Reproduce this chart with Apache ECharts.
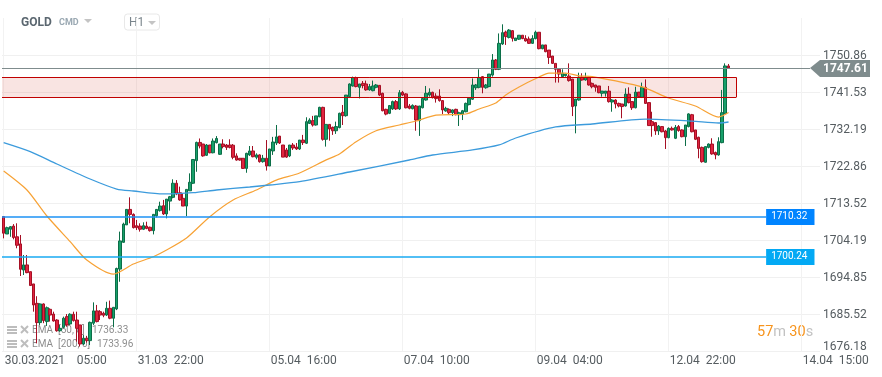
<!DOCTYPE html>
<html>
<head>
<meta charset="utf-8">
<title>GOLD H1</title>
<script src="https://cdn.jsdelivr.net/npm/echarts@6/dist/echarts.min.js"></script>
<style>
  html, body { margin: 0; padding: 0; background: #fff; }
  #chart { width: 882px; height: 377px; }
</style>
</head>
<body>
<div id="chart"></div>
<script>
// one row per hourly bar: open, close, low, high
const bars = [
  [1710.1,1705.9,1704.6,1710.2],[1705.7,1707.3,1705.7,1707.55],[1706.9,1707.55,1705.0,1707.7],[1707.7,1704.8,1704.35,1708.2],
  [1705.0,1702.85,1702.1,1708.4],[1703.2,1696.8,1695.1,1705.45],[1696.6,1697.9,1695.35,1700.4],[1697.9,1695.95,1695.8,1700.4],
  [1696.2,1692.7,1692.6,1696.2],[1693.1,1687.8,1686.1,1693.1],[1688.2,1683.35,1678.1,1690.0],[1683.35,1688.05,1682.75,1688.2],
  [1688.05,1683.85,1683.2,1688.2],[1683.6,1687.1,1682.5,1687.4],[1686.7,1685.25,1683.6,1686.95],[1685.5,1683.75,1683.6,1686.1],
  [1684.0,1681.3,1681.05,1684.2],[1681.3,1681.9,1681.05,1682.75],[1682.15,1684.45,1681.9,1684.85],[1684.85,1682.75,1682.3,1685.5],
  [1683.0,1685.45,1682.75,1685.7],[1685.45,1683.85,1683.6,1686.1],[1684.0,1681.9,1678.55,1686.1],[1682.75,1677.95,1677.3,1682.75],
  [1677.95,1679.4,1677.7,1680.2],[1679.4,1678.8,1678.3,1680.0],[1678.8,1683.4,1677.7,1683.6],[1683.2,1686.3,1682.75,1688.45],
  [1686.3,1683.6,1683.4,1687.8],[1686.1,1685.25,1684.0,1686.5],[1685.7,1685.2,1684.7,1686.1],[1685.25,1686.95,1685.0,1688.6],
  [1686.95,1684.45,1684.2,1688.9],[1684.45,1687.2,1682.15,1687.2],[1686.8,1697.0,1686.5,1697.2],[1696.85,1703.95,1693.65,1706.3],
  [1703.6,1708.2,1703.5,1708.55],[1708.0,1711.9,1708.0,1711.9],[1711.9,1710.65,1708.4,1714.95],[1710.65,1707.3,1707.1,1710.9],
  [1707.8,1707.3,1706.7,1709.25],[1707.7,1706.9,1706.3,1708.4],[1706.9,1707.8,1706.7,1708.65],[1707.7,1707.1,1706.9,1708.8],
  [1707.4,1706.55,1706.3,1707.55],[1706.55,1710.65,1705.6,1710.75],[1710.3,1711.9,1709.85,1712.0],[1711.6,1712.75,1711.35,1713.85],
  [1712.85,1710.75,1710.5,1714.3],[1710.75,1714.5,1709.65,1714.5],[1714.0,1715.1,1711.6,1715.3],[1714.95,1718.5,1714.7,1719.5],
  [1718.5,1715.8,1715.5,1719.3],[1716.1,1714.3,1714.1,1717.65],[1714.7,1712.75,1712.75,1715.95],[1712.75,1716.95,1710.2,1716.95],
  [1716.6,1718.75,1716.6,1721.0],[1718.5,1724.5,1718.3,1724.5],[1724.2,1728.8,1721.4,1729.0],[1728.8,1727.9,1727.3,1729.8],
  [1728.4,1725.4,1725.2,1728.4],[1725.55,1728.15,1725.4,1728.4],[1728.15,1726.2,1726.05,1728.15],[1726.2,1729.15,1726.05,1729.8],
  [1728.75,1729.8,1728.55,1730.4],[1725.8,1728.4,1725.65,1728.4],[1728.4,1727.75,1727.3,1729.6],[1728.15,1727.55,1726.9,1728.4],
  [1728.15,1727.55,1727.3,1729.6],[1728.1,1725.05,1724.55,1728.4],[1725.4,1724.35,1724.2,1726.05],[1724.8,1724.35,1724.2,1724.8],
  [1724.8,1722.25,1722.1,1724.8],[1722.25,1726.05,1721.15,1726.2],[1725.65,1726.65,1725.4,1727.9],[1726.65,1725.2,1725.05,1727.9],
  [1725.05,1725.65,1724.55,1726.05],[1725.65,1723.95,1723.7,1725.8],[1723.95,1724.8,1723.7,1725.65],[1724.8,1722.85,1721.7,1729.4],
  [1722.85,1727.15,1722.85,1727.15],[1726.65,1728.9,1725.65,1730.2],[1728.65,1730.2,1728.15,1733.2],[1730.4,1728.65,1728.4,1730.4],
  [1728.15,1725.1,1725.1,1728.15],[1726.9,1725.1,1724.9,1727.4],[1725.4,1728.15,1725.1,1728.15],[1728.15,1727.4,1726.9,1728.65],
  [1727.65,1727.15,1726.9,1728.65],[1727.15,1729.4,1726.9,1729.4],[1729.4,1728.75,1728.15,1730.7],[1728.6,1734.05,1728.4,1735.15],
  [1733.6,1734.45,1733.45,1734.9],[1734.3,1733.2,1732.8,1735.5],[1733.2,1735.5,1733.05,1735.5],[1735.3,1737.65,1735.15,1737.8],
  [1737.65,1729.6,1729.25,1737.8],[1729.6,1733.35,1727.75,1733.35],[1733.35,1732.2,1729.25,1733.35],[1732.6,1731.75,1730.7,1732.8],
  [1731.75,1732.8,1730.95,1734.05],[1732.55,1736.15,1732.35,1736.3],[1736.4,1735.55,1733.2,1738.25],[1735.55,1740.75,1735.3,1740.75],
  [1740.35,1743.55,1740.2,1743.7],[1743.05,1745.15,1742.9,1745.4],[1745.15,1742.9,1742.7,1745.4],[1742.7,1743.55,1739.9,1743.55],
  [1743.7,1743.15,1742.45,1744.3],[1743.55,1742.05,1741.85,1744.4],[1742.05,1742.9,1741.85,1743.55],[1741.85,1743.05,1741.7,1744.4],
  [1742.7,1743.3,1742.45,1743.55],[1743.2,1740.75,1740.5,1743.2],[1741.2,1736.8,1736.65,1741.35],[1737.15,1735.95,1735.65,1737.3],
  [1736.15,1738.1,1735.95,1738.25],[1737.25,1739.1,1737.0,1739.35],[1739.1,1737.25,1737.0,1739.5],[1737.25,1741.35,1737.0,1742.0],
  [1741.45,1740.75,1740.5,1741.8],[1741.05,1737.55,1737.4,1741.2],[1738.0,1737.4,1737.15,1738.5],[1737.3,1738.15,1737.15,1738.4],
  [1738.0,1734.45,1731.75,1738.25],[1734.3,1738.0,1730.45,1738.0],[1737.55,1739.9,1737.4,1740.2],[1739.5,1741.2,1739.35,1743.05],
  [1740.75,1741.45,1740.35,1742.45],[1741.45,1740.1,1739.9,1741.6],[1740.5,1739.85,1738.85,1741.2],[1740.5,1739.35,1739.1,1742.2],
  [1739.35,1737.0,1735.95,1739.5],[1736.75,1737.4,1736.55,1737.8],[1737.15,1736.3,1735.95,1737.4],[1736.3,1737.0,1735.45,1737.15],
  [1737.15,1735.8,1735.65,1737.3],[1735.8,1736.3,1732.95,1736.55],[1735.95,1736.8,1734.45,1737.0],[1736.55,1738.65,1736.4,1738.85],
  [1738.35,1739.95,1738.15,1740.1],[1739.7,1743.3,1739.5,1744.95],[1742.6,1743.3,1742.05,1743.55],[1742.7,1745.2,1742.45,1747.25],
  [1745.4,1742.7,1741.2,1745.55],[1742.6,1743.3,1742.35,1743.55],[1742.9,1746.05,1742.7,1746.05],[1745.8,1749.6,1745.4,1751.1],
  [1749.6,1747.25,1747.05,1749.85],[1747.25,1753.8,1747.05,1756.3],[1753.65,1756.5,1753.4,1758.6],[1756.65,1755.5,1753.4,1757.0],
  [1755.3,1757.15,1755.05,1757.4],[1757.0,1755.05,1754.25,1757.15],[1754.5,1755.15,1754.5,1755.15],[1754.85,1755.85,1754.65,1755.9],
  [1755.85,1755.0,1754.85,1755.85],[1755.05,1754.4,1754.25,1755.85],[1754.9,1753.8,1753.65,1755.5],[1753.8,1755.05,1753.65,1755.85],
  [1755.0,1756.6,1754.8,1757.0],[1756.6,1752.45,1752.3,1756.6],[1752.45,1753.4,1752.3,1753.4],[1753.4,1751.7,1751.55,1753.4],
  [1752.1,1750.25,1748.6,1752.1],[1750.6,1748.75,1748.6,1750.6],[1748.75,1747.25,1743.9,1748.75],[1747.25,1746.05,1743.9,1747.25],
  [1745.4,1746.25,1745.25,1747.25],[1745.65,1746.05,1745.4,1746.05],[1745.55,1744.4,1744.15,1748.75],[1744.8,1737.85,1735.45,1744.8],
  [1738.0,1739.75,1731.1,1739.75],[1739.5,1745.25,1739.35,1746.4],[1745.25,1744.55,1744.4,1746.25],[1744.55,1745.25,1744.4,1746.4],
  [1745.25,1743.3,1743.15,1745.4],[1743.7,1742.85,1742.45,1743.9],[1743.3,1742.7,1741.6,1743.3],[1743.05,1741.35,1741.2,1743.05],
  [1741.2,1741.75,1740.35,1741.75],[1741.2,1741.75,1740.35,1741.75],[1741.75,1739.1,1738.85,1743.05],[1739.0,1739.5,1736.55,1739.7],
  [1739.5,1738.5,1737.4,1739.7],[1738.65,1738.0,1737.65,1738.85],[1738.5,1737.85,1734.9,1738.5],[1738.0,1741.0,1737.85,1742.45],
  [1741.0,1738.85,1738.65,1742.7],[1739.1,1737.55,1737.0,1739.1],[1737.55,1741.5,1737.4,1742.85],[1741.5,1740.35,1740.2,1741.5],
  [1740.2,1742.7,1740.0,1743.9],[1742.7,1738.65,1738.5,1744.7],[1738.85,1733.05,1732.95,1738.85],[1734.05,1733.05,1730.25,1736.55],
  [1733.8,1731.7,1730.7,1733.8],[1731.7,1732.95,1730.7,1733.2],[1732.8,1731.5,1731.35,1732.95],[1731.7,1730.0,1727.15,1731.95],
  [1730.0,1732.35,1729.85,1732.6],[1732.35,1731.95,1731.8,1732.8],[1729.85,1732.6,1729.65,1733.2],[1732.8,1731.8,1731.5,1733.2],
  [1731.95,1730.25,1730.1,1732.1],[1730.25,1733.2,1727.9,1733.2],[1732.8,1736.0,1732.6,1736.15],[1735.8,1731.5,1731.35,1736.0],
  [1731.95,1729.6,1729.4,1731.95],[1730.1,1727.3,1724.8,1730.25],[1727.55,1723.95,1723.7,1727.75],[1723.8,1727.75,1723.7,1727.75],
  [1727.55,1728.4,1727.3,1728.55],[1728.4,1725.9,1725.7,1729.85],[1726.25,1725.65,1724.55,1726.5],[1725.65,1729.0,1725.45,1730.1],
  [1728.75,1736.3,1728.6,1742.05],[1736.15,1748.1,1735.95,1748.75],[1748.1,1747.61,1747.5,1748.6]
]

// [bar number, value]
const ema50 = [
  [0,1721.6],[7,1716.8],[13,1710.24],[20,1703.76],[25,1699.14],[33,1695.6],[39,1698.13],[45,1699.97],[49,1701.67],
  [55,1704.7],[62,1710.07],[69,1714.28],[76,1716.8],[82,1719.3],[89,1721.1],[97,1724.4],[101,1725.9],[106,1729.0],
  [112,1731.76],[119,1733.2],[124,1734.2],[130,1735.7],[139,1735.98],[143,1737.24],[148,1738.75],[151,1740.77],
  [155,1742.8],[161,1745.3],[164,1746.3],[169,1746.3],[173,1745.6],[177,1745.4],[192,1742.8],[200,1740.0],
  [208,1738.0],[215,1735.2],[218,1736.33]
]
const ema200 = [
  [0,1728.74],[8,1726.47],[16,1723.36],[26,1719.58],[34,1717.05],[39,1716.55],[48,1715.8],[57,1716.12],[64,1716.8],
  [74,1717.56],[80,1718.06],[89,1718.9],[104,1721.34],[122,1724.37],[129,1725.63],[141,1726.9],[149,1728.16],
  [154,1729.92],[166,1732.7],[177,1733.45],[193,1734.7],[207,1734.2],[215,1733.7],[218,1733.96]
]

const xTickBars = [0, 40, 80, 120, 160, 200, 240]
const xTickLabels = ['30.03.2021    05:00', '31.03  22:00', '05.04  16:00', '07.04  10:00', '09.04  04:00', '12.04  22:00', '14.04  15:00']
const yTicks = [1676.18, 1685.52, 1694.85, 1704.19, 1713.52, 1722.86, 1732.19, 1741.53, 1750.86]

const lastPrice = 1747.61
const zoneTop = 1745.23
const zoneBottom = 1740.19
// value is where the line sits on the axis, label is the text of its tag
const levels = [
  { value: 1709.99, label: '1710.32', color: '#1d92f5', tag: '#0084ff' },
  { value: 1699.9, label: '1700.24', color: '#18aaf2', tag: '#03a9f4' },
]
const indicators = [
  { name: 'EMA', params: '[50, 0]', value: '1736.33', valueX: 92 },
  { name: 'EMA', params: '[200, 0]', value: '1733.96', valueX: 97 },
]

const font = 'Roboto'
const grey = '#555c60'

function legendRow(row, i) {
  const y = 330 + i * 14
  const c = '#bdbdbd'
  const els = []
  ;[-4, -1, 2].forEach(function (d) {
    els.push({ type: 'rect', shape: { x: 7, y: y + d, width: 10, height: 2 }, style: { fill: c } })
  })
  els.push({ type: 'line', shape: { x1: 21, y1: y - 4, x2: 28, y2: y + 3 }, style: { stroke: c, lineWidth: 2 } })
  els.push({ type: 'line', shape: { x1: 28, y1: y - 4, x2: 21, y2: y + 3 }, style: { stroke: c, lineWidth: 2 } })
  const textStyle = { fontFamily: font, fontSize: 10, fill: 'rgba(95,95,95,0.72)', textVerticalAlign: 'middle' }
  els.push({ type: 'text', x: 32, y: y, style: Object.assign({ text: row.name }, textStyle) })
  els.push({ type: 'text', x: 58, y: y, style: Object.assign({ text: row.params }, textStyle) })
  els.push({ type: 'text', x: row.valueX, y: y, style: Object.assign({ text: row.value }, textStyle) })
  return els
}

function levelSeries(lv) {
  return {
    type: 'line',
    data: [[-0.5, lv.value], [229.3, lv.value]],
    showSymbol: false,
    z: 5,
    lineStyle: { color: lv.color, width: 1.3 },
    endLabel: {
      show: true,
      distance: 0,
      formatter: lv.label,
      color: '#fff',
      fontFamily: font,
      fontSize: 10,
      backgroundColor: lv.tag,
      padding: [3, 7, 3, 5],
    },
  }
}

const chart = echarts.init(document.getElementById('chart'), null, { renderer: 'canvas' })

const option = {
  animation: false,
  backgroundColor: '#fff',
  grid: { left: 2, right: 62, top: 18, bottom: 26 },
  xAxis: {
    type: 'value',
    min: -0.5,
    max: 245.5,
    axisLine: { show: false },
    axisTick: { show: false, customValues: xTickBars },
    splitLine: { show: true, lineStyle: { color: '#f2f2f2', width: 1 } },
    axisLabel: {
      customValues: xTickBars,
      align: 'left',
      margin: 4,
      padding: [0, 0, 0, 1],
      color: grey,
      fontFamily: font,
      fontSize: 12,
      formatter: function (v) {
        return xTickLabels[xTickBars.indexOf(v)]
      },
    },
  },
  yAxis: {
    type: 'value',
    position: 'right',
    scale: true,
    min: 1676.18,
    max: 1760.195,
    axisLine: { show: false },
    axisTick: { show: false, customValues: yTicks },
    splitLine: { show: true, lineStyle: { color: '#f0f0f0', width: 1 } },
    axisLabel: {
      customValues: yTicks,
      margin: 3,
      color: grey,
      fontFamily: font,
      fontSize: 12,
      formatter: function (v) {
        return (v === yTicks[0] ? '{low|' : '{tick|') + v.toFixed(2) + '}'
      },
      rich: {
        tick: { padding: [2, 0, 0, 0] },
        low: { padding: [0, 0, 8, 0] },
      },
    },
  },
  series: [
    {
      type: 'candlestick',
      barWidth: 3,
      encode: { x: 0, y: [1, 2, 3, 4] },
      data: bars.map(function (b, i) {
        return [i].concat(b)
      }),
      itemStyle: {
        color: '#17a06a',
        color0: '#e0243f',
        borderColor: '#0c6e48',
        borderColor0: '#a50f24',
        borderWidth: 1,
      },
      markArea: {
        silent: true,
        itemStyle: { color: 'rgba(214,72,62,0.15)', borderWidth: 0 },
        data: [[
          { xAxis: -0.5, yAxis: zoneTop },
          { xAxis: 220.3, yAxis: zoneBottom },
        ]],
      },
      // the zone runs off the left edge, so only three of its sides are outlined
      markLine: {
        silent: true,
        symbol: 'none',
        label: { show: false },
        lineStyle: { color: '#c00000', width: 1, type: 'solid' },
        data: [
          [{ xAxis: -0.5, yAxis: zoneTop }, { xAxis: 220.3, yAxis: zoneTop }],
          [{ xAxis: -0.5, yAxis: zoneBottom }, { xAxis: 220.3, yAxis: zoneBottom }],
          [{ xAxis: 220.3, yAxis: zoneTop }, { xAxis: 220.3, yAxis: zoneBottom }],
        ],
      },
    },
    {
      type: 'line',
      name: 'EMA 50',
      data: ema50,
      showSymbol: false,
      smooth: 0.25,
      z: 4,
      lineStyle: { color: '#f7a235', width: 1.2 },
      markLine: {
        silent: true,
        symbol: 'none',
        label: { show: false },
        lineStyle: { color: '#7f8c8d', width: 1, type: 'solid' },
        data: [[
          { xAxis: -0.5, yAxis: lastPrice },
          { xAxis: 242.5, yAxis: lastPrice },
        ]],
      },
    },
    {
      type: 'line',
      name: 'EMA 200',
      data: ema200,
      showSymbol: false,
      smooth: 0.25,
      z: 4,
      lineStyle: { color: '#3c9bdc', width: 1.3 },
    },
    levelSeries(levels[0]),
    levelSeries(levels[1]),
  ],
  graphic: {
    elements: [
      { type: 'text', x: 21, y: 23, style: { text: 'GOLD', fontFamily: font, fontSize: 12, fontWeight: 'bold', fill: '#5b6770', textVerticalAlign: 'middle' } },
      { type: 'text', x: 59, y: 23, style: { text: 'CMD', fontFamily: font, fontSize: 9, fontWeight: 'bold', fill: '#9aa8b2', textVerticalAlign: 'middle' } },
      { type: 'polygon', shape: { points: [[84, 19], [92, 19], [88, 23]] }, style: { fill: '#c4c4c4' } },
      { type: 'rect', shape: { x: 124.5, y: 14, width: 35, height: 16, r: 3 }, style: { fill: '#fff', stroke: '#e8e8e8', lineWidth: 1 } },
      { type: 'text', x: 129, y: 22.5, style: { text: 'H1', fontFamily: font, fontSize: 12, fill: '#7a858c', textVerticalAlign: 'middle' } },
      { type: 'polygon', shape: { points: [[148, 21], [156, 21], [152, 25]] }, style: { fill: '#c4c4c4' } },
      { type: 'polygon', shape: { points: [[810, 68], [820, 60], [870, 60], [870, 77], [820, 77]] }, style: { fill: '#7f8c8d' } },
      { type: 'text', x: 823, y: 69, style: { text: lastPrice.toFixed(2), fontFamily: font, fontSize: 12, fontWeight: 'bold', fill: '#fff', textVerticalAlign: 'middle' } },
      {
        type: 'text',
        x: 757,
        y: 332,
        style: {
          text: '{n|57}{u|m} {n|30}{u|s}',
          textVerticalAlign: 'middle',
          rich: {
            n: { fontFamily: font, fontSize: 14.5, fill: '#f7941d', color: '#f7941d' },
            u: { fontFamily: font, fontSize: 14.5, fill: '#c2c2c2', color: '#c2c2c2' },
          },
        },
      },
    ].concat(legendRow(indicators[0], 0), legendRow(indicators[1], 1)),
  },
}

option && chart.setOption(option)
</script>
</body>
</html>
